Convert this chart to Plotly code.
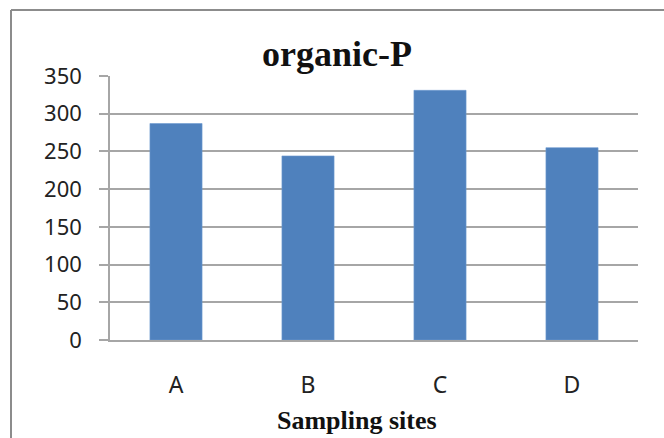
import plotly.graph_objects as go

categories = ["A", "B", "C", "D"]
values = [287, 244, 331, 255]
y_ticks = [0, 50, 100, 150, 200, 250, 300, 350]

W, H = 664, 438
L, R, T, B = 110, 26, 76, 98
pw, ph = W - L - R, H - T - B

fig = go.Figure(go.Bar(
    x=categories, y=values, width=0.395,
    marker=dict(color="#4F81BD", line=dict(color="#6E9AD0", width=0.6)),
))

grid = "#A6A6A6"
fig.update_layout(
    width=W, height=H,
    margin=dict(l=L, r=R, t=T, b=B),
    paper_bgcolor="white", plot_bgcolor="white",
    showlegend=False,
    xaxis=dict(
        showline=True, linecolor=grid, linewidth=1.5,
        ticks="", showgrid=False,
        tickfont=dict(family="Noto Sans, Open Sans, sans-serif", size=23, color="#222"),
        ticklabelstandoff=24,
    ),
    yaxis=dict(
        range=[0, 350], tickvals=y_ticks,
        showgrid=True, gridcolor=grid, gridwidth=1.5,
        showline=True, linecolor=grid, linewidth=1.5,
        ticks="outside", ticklen=9, tickcolor=grid, tickwidth=1.5,
        tickfont=dict(family="Noto Sans, Open Sans, sans-serif", size=22, color="#222"),
        ticklabelstandoff=13,
        zeroline=False,
    ),
    annotations=[
        dict(text="<b>organic-P</b>", xref="paper", yref="paper",
             x=(337 - L) / pw, y=(H - 54 - B) / ph, xanchor="center", yanchor="middle",
             showarrow=False, font=dict(family="Liberation Serif, Times New Roman, serif", size=36, color="#111")),
        dict(text="<b>Sampling sites</b>", xref="paper", yref="paper",
             x=(357 - L) / pw, y=(H - 437 - B) / ph, xanchor="center", yanchor="bottom",
             showarrow=False, font=dict(family="Liberation Serif, Times New Roman, serif", size=26, color="#111")),
    ],
    shapes=[
        dict(type="line", xref="paper", yref="paper",
             x0=(11 - L) / pw, x1=(11 - L) / pw, y0=(H - 10 - B) / ph, y1=(H - 440 - B) / ph,
             line=dict(color="#8C8C8C", width=2)),
        dict(type="line", xref="paper", yref="paper",
             x0=(11 - L) / pw, x1=(670 - L) / pw, y0=(H - 10 - B) / ph, y1=(H - 10 - B) / ph,
             line=dict(color="#8C8C8C", width=2)),
    ],
)

fig.write_html("out.html")
